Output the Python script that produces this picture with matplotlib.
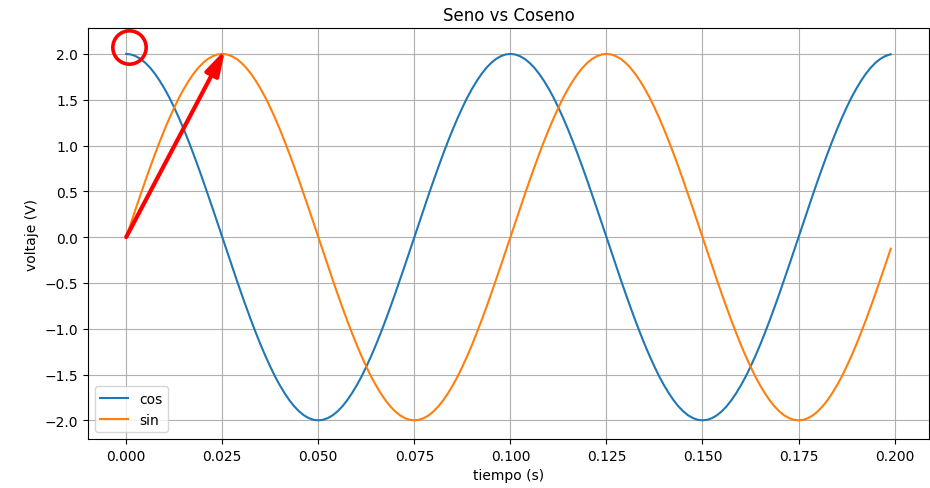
import matplotlib
matplotlib.use('Agg')
import matplotlib.pyplot as plt

# tiempo (s), muestreado cada 0.00125 s, ultimo punto en 0.199 s
tiempo = [0.00000, 0.00125, 0.00250, 0.00375, 0.00500, 0.00625, 0.00750, 0.00875,
          0.01000, 0.01125, 0.01250, 0.01375, 0.01500, 0.01625, 0.01750, 0.01875,
          0.02000, 0.02125, 0.02250, 0.02375, 0.02500, 0.02625, 0.02750, 0.02875,
          0.03000, 0.03125, 0.03250, 0.03375, 0.03500, 0.03625, 0.03750, 0.03875,
          0.04000, 0.04125, 0.04250, 0.04375, 0.04500, 0.04625, 0.04750, 0.04875,
          0.05000, 0.05125, 0.05250, 0.05375, 0.05500, 0.05625, 0.05750, 0.05875,
          0.06000, 0.06125, 0.06250, 0.06375, 0.06500, 0.06625, 0.06750, 0.06875,
          0.07000, 0.07125, 0.07250, 0.07375, 0.07500, 0.07625, 0.07750, 0.07875,
          0.08000, 0.08125, 0.08250, 0.08375, 0.08500, 0.08625, 0.08750, 0.08875,
          0.09000, 0.09125, 0.09250, 0.09375, 0.09500, 0.09625, 0.09750, 0.09875,
          0.10000, 0.10125, 0.10250, 0.10375, 0.10500, 0.10625, 0.10750, 0.10875,
          0.11000, 0.11125, 0.11250, 0.11375, 0.11500, 0.11625, 0.11750, 0.11875,
          0.12000, 0.12125, 0.12250, 0.12375, 0.12500, 0.12625, 0.12750, 0.12875,
          0.13000, 0.13125, 0.13250, 0.13375, 0.13500, 0.13625, 0.13750, 0.13875,
          0.14000, 0.14125, 0.14250, 0.14375, 0.14500, 0.14625, 0.14750, 0.14875,
          0.15000, 0.15125, 0.15250, 0.15375, 0.15500, 0.15625, 0.15750, 0.15875,
          0.16000, 0.16125, 0.16250, 0.16375, 0.16500, 0.16625, 0.16750, 0.16875,
          0.17000, 0.17125, 0.17250, 0.17375, 0.17500, 0.17625, 0.17750, 0.17875,
          0.18000, 0.18125, 0.18250, 0.18375, 0.18500, 0.18625, 0.18750, 0.18875,
          0.19000, 0.19125, 0.19250, 0.19375, 0.19500, 0.19625, 0.19750, 0.19875,
          0.19900]

coseno = [2.000, 1.994, 1.975, 1.945, 1.902, 1.848, 1.782, 1.705,
          1.618, 1.522, 1.414, 1.299, 1.176, 1.045, 0.908, 0.765,
          0.618, 0.467, 0.313, 0.157, 0.000, -0.157, -0.313, -0.467,
          -0.618, -0.765, -0.908, -1.045, -1.176, -1.299, -1.414, -1.522,
          -1.618, -1.705, -1.782, -1.848, -1.902, -1.945, -1.975, -1.994,
          -2.000, -1.994, -1.975, -1.945, -1.902, -1.848, -1.782, -1.705,
          -1.618, -1.522, -1.414, -1.299, -1.176, -1.045, -0.908, -0.765,
          -0.618, -0.467, -0.313, -0.157, 0.000, 0.157, 0.313, 0.467,
          0.618, 0.765, 0.908, 1.045, 1.176, 1.299, 1.414, 1.522,
          1.618, 1.705, 1.782, 1.848, 1.902, 1.945, 1.975, 1.994,
          2.000, 1.994, 1.975, 1.945, 1.902, 1.848, 1.782, 1.705,
          1.618, 1.522, 1.414, 1.299, 1.176, 1.045, 0.908, 0.765,
          0.618, 0.467, 0.313, 0.157, 0.000, -0.157, -0.313, -0.467,
          -0.618, -0.765, -0.908, -1.045, -1.176, -1.299, -1.414, -1.522,
          -1.618, -1.705, -1.782, -1.848, -1.902, -1.945, -1.975, -1.994,
          -2.000, -1.994, -1.975, -1.945, -1.902, -1.848, -1.782, -1.705,
          -1.618, -1.522, -1.414, -1.299, -1.176, -1.045, -0.908, -0.765,
          -0.618, -0.467, -0.313, -0.157, 0.000, 0.157, 0.313, 0.467,
          0.618, 0.765, 0.908, 1.045, 1.176, 1.299, 1.414, 1.522,
          1.618, 1.705, 1.782, 1.848, 1.902, 1.945, 1.975, 1.994,
          1.996]

seno = [0.000, 0.157, 0.313, 0.467, 0.618, 0.765, 0.908, 1.045,
        1.176, 1.299, 1.414, 1.522, 1.618, 1.705, 1.782, 1.848,
        1.902, 1.945, 1.975, 1.994, 2.000, 1.994, 1.975, 1.945,
        1.902, 1.848, 1.782, 1.705, 1.618, 1.522, 1.414, 1.299,
        1.176, 1.045, 0.908, 0.765, 0.618, 0.467, 0.313, 0.157,
        0.000, -0.157, -0.313, -0.467, -0.618, -0.765, -0.908, -1.045,
        -1.176, -1.299, -1.414, -1.522, -1.618, -1.705, -1.782, -1.848,
        -1.902, -1.945, -1.975, -1.994, -2.000, -1.994, -1.975, -1.945,
        -1.902, -1.848, -1.782, -1.705, -1.618, -1.522, -1.414, -1.299,
        -1.176, -1.045, -0.908, -0.765, -0.618, -0.467, -0.313, -0.157,
        0.000, 0.157, 0.313, 0.467, 0.618, 0.765, 0.908, 1.045,
        1.176, 1.299, 1.414, 1.522, 1.618, 1.705, 1.782, 1.848,
        1.902, 1.945, 1.975, 1.994, 2.000, 1.994, 1.975, 1.945,
        1.902, 1.848, 1.782, 1.705, 1.618, 1.522, 1.414, 1.299,
        1.176, 1.045, 0.908, 0.765, 0.618, 0.467, 0.313, 0.157,
        0.000, -0.157, -0.313, -0.467, -0.618, -0.765, -0.908, -1.045,
        -1.176, -1.299, -1.414, -1.522, -1.618, -1.705, -1.782, -1.848,
        -1.902, -1.945, -1.975, -1.994, -2.000, -1.994, -1.975, -1.945,
        -1.902, -1.848, -1.782, -1.705, -1.618, -1.522, -1.414, -1.299,
        -1.176, -1.045, -0.908, -0.765, -0.618, -0.467, -0.313, -0.157,
        -0.126]

# marcas rojas: circulo en el maximo del coseno, flecha de (0,0) al maximo del seno
circulo = (0.0008, 2.075)
flecha_inicio = (0.0, 0.0)
flecha_fin = (0.0257, 2.043)

fig = plt.figure(figsize=(9.3, 4.89), dpi=100)
ax = fig.add_axes([0.0946, 0.1002, 0.9043, 0.8397])

ax.plot(tiempo, coseno, label='cos')
ax.plot(tiempo, seno, label='sin')
ax.grid(True)
ax.set_title('Seno vs Coseno')
ax.set_xlabel('tiempo (s)')
ax.set_ylabel('voltaje (V)')
ax.legend(loc='lower left')

ax.plot([circulo[0]], [circulo[1]], 'o', ms=24, mfc='none', mec='red', mew=2.6, clip_on=False)
ax.annotate('', xy=flecha_fin, xytext=flecha_inicio,
            arrowprops=dict(arrowstyle='-|>,head_length=0.75,head_width=0.22', color='red',
                            lw=3, mutation_scale=20, shrinkA=0, shrinkB=0))

fig.savefig('out.png', dpi=100)
